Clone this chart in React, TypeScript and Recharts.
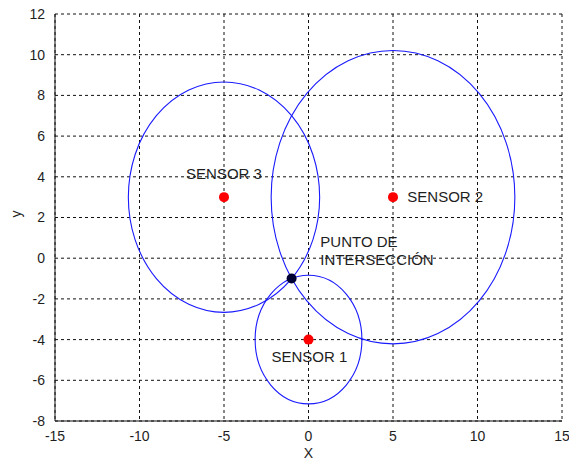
import React from "react";
import * as R from "recharts";
import {
  ScatterChart,
  Scatter,
  XAxis,
  YAxis,
  CartesianGrid,
  Label,
} from "recharts";

const xTicks = [-15, -10, -5, 0, 5, 10, 15];
const yTicks = [-8, -6, -4, -2, 0, 2, 4, 6, 8, 10, 12];

// sensor positions and measured ranges
const sensorX = [0, 5, -5];
const sensorY = [-4, 3, 3];
const sensorRange = [3.16, 7.21, 5.66];
const sensorNames = ["SENSOR 1", "SENSOR 2", "SENSOR 3"];

const hit = [{ x: -1, y: -1 }];

// text annotations (data units)
const notes = [
  { text: "SENSOR 1", x: 0.05, y: -4.85, anchor: "middle" },
  { text: "SENSOR 2", x: 5.85, y: 3.05, anchor: "start" },
  { text: "SENSOR 3", x: -5, y: 4.15, anchor: "middle" },
  { text: "PUNTO DE", x: 0.7, y: 0.82, anchor: "start" },
  { text: "INTERSECCIÓN", x: 0.7, y: -0.08, anchor: "start" },
];

const X_DOM: [number, number] = [-15, 15];
const Y_DOM: [number, number] = [-8, 12];

const sensors = sensorX.map((x, i) => ({
  x,
  y: sensorY[i],
  r: sensorRange[i],
  name: sensorNames[i],
}));

function Overlay() {
  const area = (R as any).usePlotArea ? (R as any).usePlotArea() : null;
  if (!area) return null;
  const sx = (v: number) =>
    area.x + ((v - X_DOM[0]) / (X_DOM[1] - X_DOM[0])) * area.width;
  const sy = (v: number) =>
    area.y + ((Y_DOM[1] - v) / (Y_DOM[1] - Y_DOM[0])) * area.height;
  const kx = area.width / (X_DOM[1] - X_DOM[0]);
  const ky = area.height / (Y_DOM[1] - Y_DOM[0]);
  return (
    <g>
      {sensors.map((s) => (
        <ellipse
          key={s.name}
          cx={sx(s.x)}
          cy={sy(s.y)}
          rx={s.r * kx}
          ry={s.r * ky}
          fill="none"
          stroke="#1a1aff"
          strokeWidth={1.1}
        />
      ))}
      {notes.map((n) => (
        <text
          key={n.text}
          x={sx(n.x)}
          y={sy(n.y)}
          textAnchor={n.anchor as any}
          dominantBaseline="central"
          fontSize={15}
          fill="#1e1e1e"
          fontFamily="Liberation Sans, Arial, sans-serif"
        >
          {n.text}
        </text>
      ))}
    </g>
  );
}

export default function App() {
  return (
    <div style={{ position: "absolute", left: 0, top: 0, background: "#fff" }}>
      <ScatterChart
        width={569}
        height={462}
        margin={{ top: 14, right: 7, bottom: 0, left: 0 }}
        style={{ fontFamily: "Liberation Sans, Arial, sans-serif" }}
      >
        <CartesianGrid
          stroke="#111"
          strokeDasharray="3 3"
          strokeWidth={1}
          horizontalValues={yTicks}
          verticalValues={xTicks}
        />
        <XAxis
          type="number"
          dataKey="x"
          domain={X_DOM}
          ticks={xTicks}
          allowDataOverflow
          height={41}
          stroke="#111"
          tickLine={false}
          tickMargin={4}
          tick={{ fill: "#1e1e1e", fontSize: 14 }}
        >
          <Label value="X" position="insideBottom" offset={4} fill="#1e1e1e" fontSize={14} />
        </XAxis>
        <YAxis
          type="number"
          dataKey="y"
          domain={Y_DOM}
          ticks={yTicks}
          allowDataOverflow
          width={55}
          stroke="#111"
          tickLine={false}
          tickMargin={4}
          tick={{ fill: "#1e1e1e", fontSize: 14 }}
        >
          <Label value="y" angle={-90} position="insideLeft" offset={16} fill="#1e1e1e" fontSize={14} />
        </YAxis>
        <Overlay />
        <Scatter data={sensors} fill="#ff0000" isAnimationActive={false} shape={(p: any) => <circle cx={p.cx} cy={p.cy} r={5} fill="#ff0000" />} />
        <Scatter data={hit} fill="#000033" isAnimationActive={false} shape={(p: any) => <circle cx={p.cx} cy={p.cy} r={5} fill="#000033" />} />
      </ScatterChart>
    </div>
  );
}
